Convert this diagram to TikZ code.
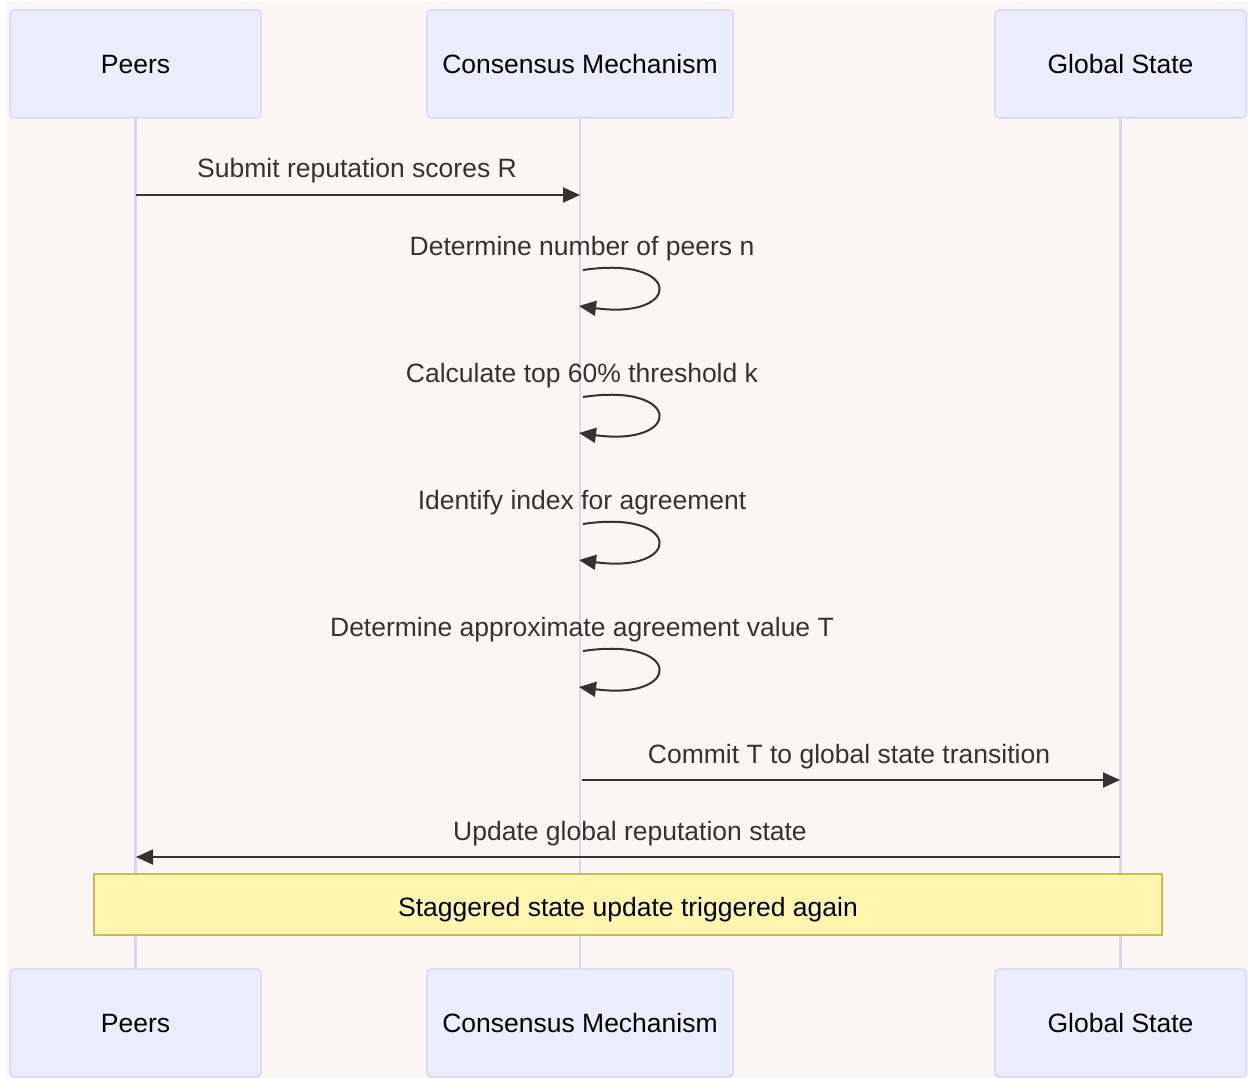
\documentclass[tikz,border=0pt]{standalone}
\usepackage{fontspec}
\setmainfont{Liberation Sans}
\usetikzlibrary{arrows.meta,calc}
\definecolor{bg}{HTML}{F9F6F3}
\definecolor{actorfill}{HTML}{ECECFF}
\definecolor{actorline}{HTML}{DDD5F7}
\definecolor{life}{HTML}{DCD5F7}
\definecolor{msg}{HTML}{333333}
\definecolor{notefill}{HTML}{FFF5AD}
\definecolor{noteline}{HTML}{C4BE55}
\begin{document}
\begin{tikzpicture}[x=1pt,y=-1pt,
  txt/.style={font=\fontsize{26.5}{30}\selectfont, inner sep=0pt},
  actor/.style={txt, draw=actorline, fill=actorfill, line width=1.5pt,
    rounded corners=4pt, minimum height=108pt, text=black,
    text height=19.5pt, text depth=0pt},
  lifeline/.style={draw=life, line width=2.2pt},
  msgline/.style={draw=msg, line width=2pt,
    -{Triangle[length=17pt,width=15pt]}},
  msglabel/.style={txt, text=msg, anchor=base},
  note/.style={txt, draw=noteline, fill=notefill, line width=1.5pt,
    minimum width=1068pt, minimum height=61pt, text=black,
    text height=23pt, text depth=0pt}]
  % canvas
  \useasboundingbox (0,0) rectangle (1248,1078);
  \fill[white] (0,0) rectangle (1248,1078);
  \fill[bg] (6,2) rectangle (1248,1078);

  % lifeline anchors (drawn first so the boxes sit on top)
  \coordinate (peersL) at (135.5,118);
  \coordinate (consL)  at (580,118);
  \coordinate (globL)  at (1120.5,118);
  \coordinate (peersE) at (135.5,969);
  \coordinate (consE)  at (580,969);
  \coordinate (globE)  at (1120.5,969);
  \draw[lifeline] (peersL) -- (peersE);
  \draw[lifeline] (consL) -- (consE);
  \draw[lifeline] (globL) -- (globE);

  % participants, top and bottom
  \node[actor, minimum width=251pt] (peersT) at (135.5,64) {Peers};
  \node[actor, minimum width=306pt] (consT)  at (580,64) {Consensus Mechanism};
  \node[actor, minimum width=251pt] (globT)  at (1120.5,64) {Global State};
  \node[actor, minimum width=251pt] (peersB) at (135.5,1023) {Peers};
  \node[actor, minimum width=306pt] (consB)  at (580,1023) {Consensus Mechanism};
  \node[actor, minimum width=251pt] (globB)  at (1120.5,1023) {Global State};

  % message end points on the lifelines
  \coordinate (s1) at (136,195);
  \coordinate (e1) at (580,195);
  \coordinate (s6) at (582,780);
  \coordinate (e6) at (1120,780);
  \coordinate (s7) at (1120,857);
  \coordinate (e7) at (136,857);

  % Peers -> Consensus
  \node[msglabel] (l1) at (357,178) {Submit reputation scores R};
  \draw[msgline] (s1) -- (e1);

  % self messages on the consensus lifeline
  \foreach \i/\y/\t in {2/270/{Determine number of peers n},
                        3/397/{Calculate top 60\% threshold k},
                        4/524/{Identify index for agreement},
                        5/651/{Determine approximate agreement value T}}{
    \node[msglabel] (l\i) at (582,\y-15) {\t};
    \coordinate (a\i) at (583,\y);
    \coordinate (b\i) at (579,\y+36);
    \draw[msgline] (a\i) .. controls ($(a\i)+(100,-15)$) and ($(a\i)+(100,50)$) .. (b\i);
  }

  % Consensus -> Global State
  \node[msglabel] (l6) at (849,763) {Commit T to global state transition};
  \draw[msgline] (s6) -- (e6);

  % Global State -> Peers
  \node[msglabel] (l7) at (630,840) {Update global reputation state};
  \draw[msgline] (s7) -- (e7);

  % note across all participants
  \node[note] (n1) at (628,904.5) {Staggered state update triggered again};
\end{tikzpicture}
\end{document}
